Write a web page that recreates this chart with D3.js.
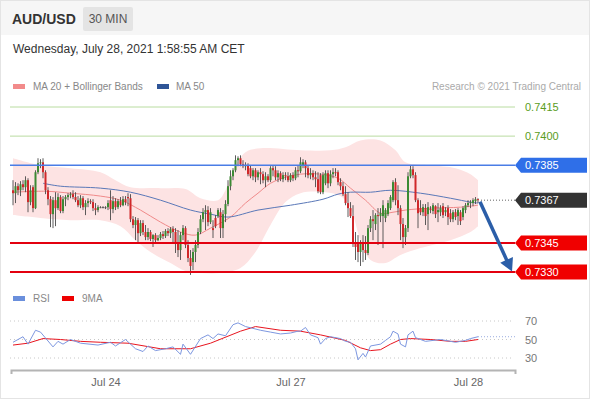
<!DOCTYPE html>
<html>
<head>
<meta charset="utf-8">
<script src="https://d3js.org/d3.v7.min.js"></script>
<style>
  body { margin: 0; background: #fff; }
  svg text { font-family: "Liberation Sans", Arial, sans-serif; }
</style>
</head>
<body>
<div id="chart"></div>
<script>
'use strict';

// 30 min candles, price x 100000 : [open, high, low, close]
var candles = [
  [73721,73773,73644,73706],[73706,73763,73655,73742],[73742,73757,73696,73721],[73721,73768,73691,73752],
  [73752,73773,73721,73737],[73737,73793,73711,73773],[73773,73783,73608,73660],[73660,73747,73644,73721],
  [73737,73747,73608,73629],[73629,73824,73624,73814],[73814,73886,73804,73860],[73860,73881,73835,73865],
  [73865,73886,73783,73814],[73814,73824,73701,73721],[73721,73737,73644,73675],[73675,73691,73531,73598],
  [73598,73686,73526,73670],[73670,73711,73536,73629],[73629,73706,73619,73686],[73686,73696,73603,73614],
  [73614,73691,73603,73675],[73675,73696,73639,73686],[73686,73706,73670,73696],[73696,73711,73680,73701],
  [73701,73721,73675,73686],[73686,73711,73660,73670],[73670,73691,73634,73644],[73644,73696,73629,73680],
  [73680,73691,73619,73634],[73634,73670,73593,73655],[73655,73680,73634,73665],[73665,73675,73650,73660],
  [73660,73675,73614,73629],[73629,73655,73593,73619],[73619,73644,73608,73634],[73634,73639,73629,73634],
  [73634,73639,73629,73634],[73634,73639,73624,73634],[73634,73670,73619,73655],[73670,73721,73567,73624],
  [73624,73691,73603,73665],[73665,73680,73619,73634],[73634,73675,73624,73665],[73665,73686,73634,73644],
  [73644,73691,73639,73675],[73675,73691,73644,73660],[73686,73706,73639,73680],[73680,73701,73557,73572],
  [73572,73588,73526,73542],[73542,73583,73464,73567],[73567,73578,73449,73500],[73500,73567,73485,73552],
  [73552,73567,73490,73506],[73506,73542,73464,73480],[73480,73526,73464,73506],[73506,73516,73459,73470],
  [73470,73495,73429,73490],[73490,73500,73454,73464],[73464,73490,73459,73475],[73475,73506,73464,73495],
  [73495,73511,73470,73485],[73485,73521,73475,73511],[73511,73526,73485,73500],[73500,73531,73475,73521],
  [73521,73536,73454,73506],[73506,73526,73398,73454],[73454,73516,73377,73413],[73413,73506,73362,73490],
  [73490,73542,73464,73526],[73526,73536,73423,73439],[73439,73464,73351,73372],[73372,73413,73285,73331],
  [73351,73423,73310,73403],[73403,73464,73351,73439],[73439,73526,73423,73506],[73506,73593,73495,73572],
  [73572,73629,73557,73608],[73608,73644,73516,73619],[73619,73639,73536,73557],[73557,73629,73547,73608],
  [73526,73567,73475,73516],[73578,73593,73526,73536],[73588,73629,73578,73619],[73608,73629,73475,73526],
  [73526,73619,73475,73598],[73598,73670,73557,73650],[73650,73773,73639,73742],[73742,73824,73721,73793],
  [73793,73835,73773,73824],[73824,73901,73814,73876],[73876,73896,73845,73886],[73886,73901,73845,73855],
  [73855,73876,73835,73845],[73845,73865,73824,73850],[73850,73860,73793,73804],[73835,73850,73783,73793],
  [73793,73835,73773,73824],[73824,73835,73763,73788],[73788,73824,73773,73814],[73814,73835,73752,73804],
  [73804,73819,73757,73773],[73773,73814,73737,73793],[73793,73804,73763,73773],[73773,73845,73763,73835],
  [73835,73850,73793,73824],[73824,73845,73773,73788],[73788,73824,73763,73809],[73809,73819,73768,73778],
  [73778,73814,73763,73799],[73799,73814,73773,73793],[73793,73814,73763,73773],[73773,73809,73763,73799],
  [73799,73814,73768,73783],[73783,73840,73773,73824],[73824,73850,73788,73819],[73819,73891,73809,73865],
  [73850,73881,73835,73865],[73865,73876,73788,73835],[73835,73850,73783,73799],[73799,73835,73778,73809],
  [73809,73824,73773,73788],[73788,73819,73737,73778],[73778,73814,73706,73716],[73799,73809,73701,73711],
  [73711,73814,73701,73799],[73757,73824,73747,73809],[73809,73824,73732,73757],[73757,73824,73742,73804],
  [73804,73835,73783,73814],[73814,73835,73793,73809],[73814,73824,73747,73763],[73763,73783,73721,73742],
  [73742,73763,73691,73701],[73701,73742,73644,73655],[73655,73711,73583,73629],[73629,73660,73578,73588],
  [73588,73644,73429,73444],[73444,73506,73362,73429],[73444,73490,73351,73403],[73403,73464,73331,73449],
  [73449,73490,73351,73413],[73413,73485,73362,73398],[73398,73542,73387,73526],[73526,73588,73506,73572],
  [73572,73619,73464,73562],[73547,73603,73516,73593],[73593,73629,73439,73588],[73588,73629,73557,73603],
  [73588,73670,73423,73644],[73578,73629,73557,73619],[73598,73670,73588,73655],[73629,73696,73619,73686],
  [73670,73773,73660,73763],[73763,73783,73644,73670],[73670,73747,73593,73629],[73629,73644,73464,73547],
  [73547,73578,73423,73480],[73480,73542,73439,73526],[73526,73814,73506,73793],[73793,73850,73783,73829],
  [73829,73845,73783,73799],[73799,73814,73660,73670],[73670,73680,73526,73603],[73629,73670,73593,73608],
  [73608,73650,73588,73634],[73629,73650,73542,73588],[73598,73660,73516,73634],[73624,73639,73603,73619],
  [73614,73655,73598,73644],[73639,73644,73578,73598],[73608,73655,73557,73619],[73608,73644,73588,73629],
  [73639,73655,73578,73593],[73608,73634,73588,73619],[73629,73644,73542,73583],[73603,73624,73557,73572],
  [73572,73619,73557,73608],[73608,73624,73567,73583],[73588,73629,73542,73619],[73608,73619,73542,73562],
  [73583,73639,73567,73629],[73619,73655,73603,73644],[73644,73670,73634,73655],[73655,73670,73629,73660],
  [73655,73680,73639,73670],[73665,73686,73650,73675],[73675,73680,73655,73670]
];

// day labels on the time axis (candle index)
var tickIndex = [37, 111, 182];
var tickLabels = ['Jul 24', 'Jul 27', 'Jul 28'];

// indicator readings [candle index, price x 100000]
var ma20 = [[0,73711],[13,73716],[23,73706],[35,73691],[43,73670],[51,73619],[59,73557],[67,73506],[73,73490],
  [79,73526],[87,73583],[93,73655],[98,73706],[103,73757],[109,73788],[115,73804],[123,73804],[130,73783],
  [135,73732],[141,73670],[147,73603],[152,73608],[157,73619],[167,73629],[179,73634],[186,73644]];
var bbUpper = [[0,73886],[11,73850],[23,73835],[35,73814],[41,73773],[47,73737],[59,73732],[69,73727],[75,73680],
  [82,73670],[85,73721],[88,73824],[93,73917],[99,73937],[115,73927],[127,73927],[133,73943],[139,73978],
  [147,73978],[153,73927],[157,73865],[167,73850],[177,73835],[183,73804],[186,73773]];
var bbLower = [[0,73593],[11,73578],[23,73567],[35,73567],[43,73536],[49,73464],[55,73403],[63,73346],[69,73305],
  [75,73295],[83,73295],[91,73321],[97,73403],[103,73542],[109,73660],[115,73706],[125,73711],[131,73691],
  [135,73629],[139,73464],[143,73362],[149,73346],[155,73387],[163,73423],[175,73464],[183,73506],[186,73536]];
var ma50 = [[12,73757],[19,73742],[35,73732],[47,73711],[59,73670],[71,73619],[79,73598],[86,73583],[98,73619],
  [111,73644],[124,73675],[130,73701],[135,73711],[143,73711],[151,73721],[163,73706],[175,73680],[183,73660],[186,73655]];

// RSI panel [candle index, value]
var rsi = [[0,47],[4,53],[6,45],[9,60],[11,58],[16,42],[18,48],[20,45],[23,50],[27,46],[34,44],[39,47],[41,43],
  [45,50],[49,40],[52,37],[54,43],[57,38],[61,40],[64,42],[67,34],[68,45],[71,34],[75,51],[78,55],[80,51],
  [82,56],[85,54],[88,66],[90,68],[93,64],[99,60],[103,58],[107,56],[111,57],[114,59],[115,59],[117,63],
  [119,55],[122,52],[123,45],[125,51],[127,53],[131,51],[133,48],[135,47],[137,40],[138,28],[140,35],[141,31],
  [143,43],[147,45],[149,49],[151,53],[152,59],[154,56],[155,45],[157,42],[158,55],[160,59],[161,52],[165,48],
  [171,50],[177,47],[181,49],[183,51],[186,53]];
var rsiMa = [[0,44],[6,46],[12,51],[19,50],[27,48],[35,47],[46,46],[59,40],[71,40],[79,46],[91,59],[97,64],
  [107,60],[115,59],[123,55],[133,49],[139,41],[143,38],[147,39],[151,45],[155,50],[159,51],[167,50],[175,48],
  [181,48],[186,50]];
var rsiLevels = [70, 50, 30];

// key levels
var resistances = [0.7415, 0.7400];
var pivot = 0.7385;
var lastPrice = 0.7367;
var supports = [0.7345, 0.7330];
// expected path: from last candle toward the second support
var arrowFrom = [186.8, 0.73662];
var arrowTo = [199.6, 0.73302];

(function() {
    var W = 590, H = 400;
    var green = '#3c8a34', red = '#d0282a';

    var svg = d3.select('#chart').append('svg')
        .attr('width', W)
        .attr('height', H);

    // scales
    var x = d3.scaleLinear().domain([0, candles.length - 1]).range([13, 478]);
    var y = d3.scaleLinear().domain([0.7330, 0.7415]).range([272, 107]);
    var yR = d3.scaleLinear().domain([30, 70]).range([358, 321]);
    var py = function(v) { return y(v / 1e5); };

    // card + header
    svg.append('rect').attr('x', 0.5).attr('y', 0.5).attr('width', W - 1).attr('height', H - 2)
        .attr('fill', '#fff').attr('stroke', '#e4e4e4');
    svg.append('rect').attr('x', 1).attr('y', 1).attr('width', W - 2).attr('height', 34).attr('fill', '#f6f6f6');
    svg.append('text').attr('x', 12).attr('y', 24).attr('font-size', 14).attr('font-weight', 'bold')
        .attr('fill', '#333').text('AUD/USD');
    svg.append('rect').attr('x', 83).attr('y', 7).attr('width', 50).attr('height', 24).attr('rx', 2).attr('fill', '#e4e4e4');
    svg.append('text').attr('x', 108).attr('y', 23).attr('text-anchor', 'middle').attr('font-size', 12)
        .attr('fill', '#555').text('30 MIN');
    svg.append('text').attr('x', 13).attr('y', 53).attr('font-size', 12).attr('fill', '#333')
        .text('Wednesday, July 28, 2021 1:58:55 AM CET');

    // legend
    svg.append('rect').attr('x', 13).attr('y', 84).attr('width', 12).attr('height', 5).attr('fill', '#f28b8b');
    svg.append('text').attr('x', 33).attr('y', 90).attr('font-size', 10).attr('fill', '#888').text('MA 20 + Bollinger Bands');
    svg.append('rect').attr('x', 157).attr('y', 84).attr('width', 12).attr('height', 5).attr('fill', '#2f5597');
    svg.append('text').attr('x', 176).attr('y', 90).attr('font-size', 10).attr('fill', '#888').text('MA 50');
    svg.append('text').attr('x', 581).attr('y', 90).attr('text-anchor', 'end').attr('font-size', 10)
        .attr('fill', '#aaa').text('Research \u00a9 2021 Trading Central');

    svg.append('clipPath').attr('id', 'plotClip')
        .append('rect').attr('x', 10).attr('y', 96).attr('width', 505).attr('height', 190);
    var plot = svg.append('g').attr('clip-path', 'url(#plotClip)');

    // bollinger band
    var curve = d3.line()
        .x(function(d) { return x(d[0]); })
        .y(function(d) { return py(d[1]); })
        .curve(d3.curveCatmullRom.alpha(0.5));
    var lowerRev = bbLower.slice().reverse();
    plot.append('path')
        .attr('d', curve(bbUpper) + 'L' + curve(lowerRev).slice(1) + 'Z')
        .attr('fill', '#fde3e3');

    // level lines
    resistances.forEach(function(p) {
        svg.append('line').attr('x1', 10).attr('x2', 515).attr('y1', y(p)).attr('y2', y(p))
            .attr('stroke', '#b9dca0').attr('stroke-width', 1);
        svg.append('text').attr('x', 525).attr('y', y(p) + 4).attr('font-size', 11)
            .attr('fill', '#5a9c22').text(p.toFixed(4));
    });
    svg.append('line').attr('x1', 10).attr('x2', 515).attr('y1', y(pivot)).attr('y2', y(pivot))
        .attr('stroke', '#4a7de6').attr('stroke-width', 1.5);
    supports.forEach(function(p) {
        svg.append('line').attr('x1', 10).attr('x2', 515).attr('y1', y(p)).attr('y2', y(p))
            .attr('stroke', '#e3000f').attr('stroke-width', 2);
    });

    // moving averages
    plot.append('path').attr('d', curve(ma20)).attr('fill', 'none').attr('stroke', '#f08a8a').attr('stroke-width', 1);
    plot.append('path').attr('d', curve(ma50)).attr('fill', 'none').attr('stroke', '#5a78b8').attr('stroke-width', 1);

    // candles
    var c = plot.append('g').selectAll('g')
        .data(candles)
        .enter()
        .append('g');
    c.append('line')
        .attr('x1', function(d, i) { return x(i); })
        .attr('x2', function(d, i) { return x(i); })
        .attr('y1', function(d) { return py(d[1]); })
        .attr('y2', function(d) { return py(d[2]); })
        .attr('stroke', '#4a4a4a')
        .attr('stroke-width', 0.9);
    c.append('rect')
        .attr('x', function(d, i) { return x(i) - 1; })
        .attr('width', 2)
        .attr('y', function(d) { return py(Math.max(d[0], d[3])); })
        .attr('height', function(d) { return Math.max(1, Math.abs(py(d[0]) - py(d[3]))); })
        .attr('fill', function(d) {
            if (d[0] === d[3]) return '#555';
            return d[3] > d[0] ? green : red;
        });

    // dotted line from last candle to its tag
    svg.append('line').attr('x1', x(candles.length - 1) + 3).attr('x2', 515)
        .attr('y1', y(lastPrice)).attr('y2', y(lastPrice))
        .attr('stroke', '#666').attr('stroke-dasharray', '1,2');

    // tags on the right
    function tag(p, fill) {
        var yy = y(p);
        svg.append('path')
            .attr('d', 'M515,' + yy + 'L521,' + (yy - 7.5) + 'H587V' + (yy + 7.5) + 'H521Z')
            .attr('fill', fill);
        svg.append('text').attr('x', 525).attr('y', yy + 4).attr('font-size', 11)
            .attr('fill', '#fff').text(p.toFixed(4));
    }
    tag(pivot, '#2f6fe8');
    tag(lastPrice, '#333');
    supports.forEach(function(p) { tag(p, '#f00000'); });

    // projection arrow
    var ax0 = x(arrowFrom[0]), ay0 = y(arrowFrom[1]);
    var ax1 = x(arrowTo[0]), ay1 = y(arrowTo[1]);
    var ang = Math.atan2(ay1 - ay0, ax1 - ax0);
    var headLen = 13, headW = 7;
    var bx = ax1 - headLen * Math.cos(ang), by = ay1 - headLen * Math.sin(ang);
    svg.append('line').attr('x1', ax0).attr('y1', ay0).attr('x2', bx + 2 * Math.cos(ang)).attr('y2', by + 2 * Math.sin(ang))
        .attr('stroke', '#2b5ea8').attr('stroke-width', 3.5);
    svg.append('path')
        .attr('d', 'M' + ax1 + ',' + ay1 +
            'L' + (bx + headW * Math.sin(ang)) + ',' + (by - headW * Math.cos(ang)) +
            'L' + (bx - headW * Math.sin(ang)) + ',' + (by + headW * Math.cos(ang)) + 'Z')
        .attr('fill', '#2b5ea8');

    // RSI panel
    svg.append('rect').attr('x', 13).attr('y', 296).attr('width', 12).attr('height', 5).attr('fill', '#6a8fdc');
    svg.append('text').attr('x', 33).attr('y', 302).attr('font-size', 10).attr('fill', '#888').text('RSI');
    svg.append('rect').attr('x', 62).attr('y', 296).attr('width', 12).attr('height', 5).attr('fill', '#ee0000');
    svg.append('text').attr('x', 82).attr('y', 302).attr('font-size', 10).attr('fill', '#888').text('9MA');

    rsiLevels.forEach(function(v) {
        svg.append('line').attr('x1', 10).attr('x2', 513).attr('y1', yR(v)).attr('y2', yR(v))
            .attr('stroke', '#c8c8c8').attr('stroke-dasharray', '1,3');
        svg.append('text').attr('x', 525).attr('y', yR(v) + 4).attr('font-size', 11)
            .attr('fill', '#777').text(v);
    });

    var rline = d3.line()
        .x(function(d) { return x(d[0]); })
        .y(function(d) { return yR(d[1]); });
    svg.append('path').attr('d', rline(rsiMa)).attr('fill', 'none').attr('stroke', '#e8141e').attr('stroke-width', 1);
    svg.append('path').attr('d', rline(rsi)).attr('fill', 'none').attr('stroke', '#7d97e0').attr('stroke-width', 1);
    var lastRsi = rsi[rsi.length - 1];
    svg.append('line').attr('x1', x(lastRsi[0])).attr('x2', 515)
        .attr('y1', yR(lastRsi[1])).attr('y2', yR(lastRsi[1]))
        .attr('stroke', '#9aace0').attr('stroke-dasharray', '1,2');

    // time axis
    var xa = d3.scaleLinear().domain([x.invert(11), x.invert(515)]).range([11, 515]);
    var axis = svg.append('g')
        .attr('transform', 'translate(0,370)')
        .call(d3.axisBottom(xa)
            .tickValues(tickIndex)
            .tickFormat(function(d, i) { return tickLabels[i]; })
            .tickSizeInner(0)
            .tickSizeOuter(4)
            .tickPadding(8));
    axis.select('.domain').attr('stroke', '#b4b4b4').attr('stroke-width', 2);
    axis.selectAll('text').attr('font-size', 11).attr('fill', '#666')
        .attr('font-family', '"Liberation Sans", Arial, sans-serif');
})();
</script>
</body>
</html>
